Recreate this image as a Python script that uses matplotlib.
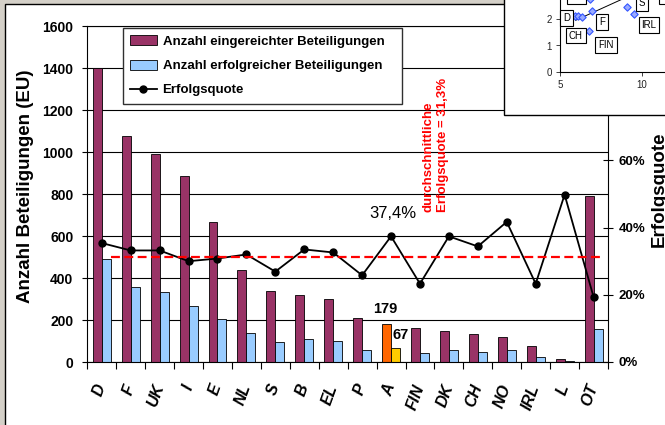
import matplotlib
matplotlib.use('Agg')
import matplotlib.pyplot as plt
import numpy as np
from matplotlib.patches import Rectangle, Patch
from matplotlib.lines import Line2D

plt.rcParams['font.family'] = ['Liberation Sans', 'DejaVu Sans']

# ---------------- data ----------------
categories = ['D', 'F', 'UK', 'I', 'E', 'NL', 'S', 'B', 'EL', 'P', 'A',
              'FIN', 'DK', 'CH', 'NO', 'IRL', 'L', 'OT']
submitted = [1400, 1075, 990, 884, 665, 438, 339, 320, 299, 211, 179,
             164, 149, 134, 119, 76, 13, 789]
successful = [490, 359, 331, 267, 204, 140, 95, 110, 100, 56, 67,
              41, 56, 46, 56, 22, 4, 156]
success_rate = [35.4, 33.2, 33.2, 30.0, 30.8, 32.0, 26.9, 33.5, 32.6, 25.8, 37.4,
                23.3, 37.4, 34.4, 41.7, 23.3, 49.8, 19.4]
average_rate = 31.3
highlight = 'A'
highlight_labels = ['179', '67', '37,4%']

left_ticks = [0, 200, 400, 600, 800, 1000, 1200, 1400, 1600]
right_ticks = [0, 20, 40, 60, 80, 100]
right_tick_labels = ['0%', '20%', '40%', '60%', '80%', '100%']
series_labels = ['Anzahl eingereichter Beteiligungen',
                 'Anzahl erfolgreicher Beteiligungen',
                 'Erfolgsquote']
y_label_left = 'Anzahl Beteiligungen (EU)'
y_label_right = 'Erfolgsquote'
avg_text = 'durchschnittliche\nErfolgsquote = 31,3%'

# inset scatter (partly hidden)
inset_x = [5.92, 6.12, 6.33, 6.94, 6.80, 9.09, 9.50, 6.85]
inset_y = [2.11, 2.13, 2.10, 2.32, 1.55, 2.46, 2.20, 2.78]
inset_trend_x = [5.95, 9.2]
inset_trend_y = [1.96, 2.88]
inset_labels = ['D', 'CH', 'F', 'FIN', 'S', 'IRL', 'NL', 'B']
inset_label_x = [5.41, 5.96, 7.57, 7.82, 10.02, 10.45, 6.01, 11.45]
inset_label_y = [2.04, 1.38, 1.91, 1.01, 2.62, 1.78, 2.90, 2.90]
inset_xticks = [5, 10, 15]
inset_yticks = [0, 1, 2, 3, 4]

# ---------------- colours ----------------
PURPLE = '#993366'
LIGHTBLUE = '#99CCFF'
ORANGE = '#FF6600'
YELLOW = '#FFCC00'

W, H = 665, 425
def fx(px):
    return px / W
def fy(py):
    return 1 - py / H

fig = plt.figure(figsize=(W / 100, H / 100), dpi=100)
fig.patch.set_facecolor('white')

# outer window frame
fig.add_artist(Rectangle((0, 0), 1, 1, transform=fig.transFigure,
                         facecolor='#D4D0C8', edgecolor='none', zorder=-10))
fig.add_artist(Rectangle((fx(4.5), fy(460)), 1.2, fy(4) - fy(460),
                         transform=fig.transFigure, facecolor='white',
                         edgecolor='black', lw=1.0, zorder=-9))

ax = fig.add_axes([fx(87.3), fy(362), fx(608) - fx(87.3), fy(26) - fy(362)])
n = len(categories)
x = np.arange(n)
w = 0.31

purple_cols = [ORANGE if c == highlight else PURPLE for c in categories]
blue_cols = [YELLOW if c == highlight else LIGHTBLUE for c in categories]
ax.bar(x - w / 2, submitted, w, color=purple_cols, edgecolor='black', linewidth=0.6, zorder=2)
ax.bar(x + w / 2, successful, w, color=blue_cols, edgecolor='black', linewidth=0.6, zorder=2)

ax.set_xlim(-0.5, n - 0.5)
ax.set_ylim(0, 1600)
ax.set_yticks(left_ticks)
ax.set_yticklabels([str(t) for t in left_ticks], fontsize=10, fontweight='bold')
ax.yaxis.grid(True, color='black', lw=0.8)
ax.set_axisbelow(True)
ax.tick_params(axis='y', direction='out', length=3.5, width=0.8, pad=6.5)
ax.set_xticks(x)
ax.set_xticklabels([])
ax.tick_params(axis='x', which='major', length=0)
ax.set_xticks(np.arange(-0.5, n, 1), minor=True)
ax.tick_params(axis='x', which='minor', length=5, width=0.8, direction='out')
for s in ['left', 'bottom', 'top']:
    ax.spines[s].set_linewidth(0.8)
ax.spines['right'].set_visible(False)

for i, c in enumerate(categories):
    ax.annotate(c, xy=(i, 0), xycoords=('data', 'axes fraction'),
                xytext=(0, -16.5), textcoords='offset points',
                rotation=70, ha='right', va='center', rotation_mode='anchor',
                fontsize=11.5, fontstyle='italic', fontweight='bold')

hi = categories.index(highlight)
ax.annotate(highlight_labels[0], xy=(hi - w / 2, submitted[hi]), xytext=(-1.3, 11),
            textcoords='offset points', ha='center', va='center',
            fontsize=10.5, fontweight='bold')
ax.annotate(highlight_labels[1], xy=(hi + w / 2, successful[hi]), xytext=(4, 9.4),
            textcoords='offset points', ha='center', va='center',
            fontsize=10.5, fontweight='bold')

ax2 = ax.twinx()
ax2.set_ylim(0, 100)
ax2.set_yticks(right_ticks)
ax2.set_yticklabels(right_tick_labels, fontsize=9.5, fontweight='bold')
ax2.tick_params(axis='y', direction='inout', length=7, width=0.8, pad=4)
for s in ['left', 'bottom', 'top']:
    ax2.spines[s].set_visible(False)
ax2.spines['right'].set_linewidth(0.8)

ax2.plot(x, success_rate, color='black', lw=1.3, marker='o', ms=5, zorder=3)
ax2.plot([w, n - 1 + w], [average_rate, average_rate], color='red', lw=1.6,
         ls=(0, (4, 2)), zorder=4)
ax2.annotate(highlight_labels[2], xy=(hi, success_rate[hi]), xytext=(1.4, 16.6),
             textcoords='offset points', ha='center', va='center', fontsize=12)

handles = [Patch(facecolor=PURPLE, edgecolor='black', lw=0.6),
           Patch(facecolor=LIGHTBLUE, edgecolor='black', lw=0.6),
           Line2D([], [], color='black', marker='o', ms=5, lw=1.3)]
leg = ax2.legend(handles, series_labels, loc='upper left', mode='expand',
                 bbox_to_anchor=(fx(123), fy(104), (402 - 123) / W, (104 - 28) / H),
                 bbox_transform=fig.transFigure,
                 prop=dict(weight='bold', size=9.5), frameon=True, fancybox=False,
                 edgecolor='#303030', framealpha=1, borderaxespad=0, borderpad=0.55,
                 labelspacing=0.88, handlelength=2.0, handleheight=0.8,
                 handletextpad=0.45)
leg.get_frame().set_linewidth(1.0)

# average annotation
fig.text(fx(435.5), fy(212), avg_text, rotation=90, color='red', fontweight='bold',
         fontsize=9.5, ha='center', va='bottom', multialignment='left', linespacing=1.3)

# axis titles
fig.text(fx(26), fy(186), y_label_left, rotation=90, ha='center', va='center',
         fontsize=13.5, fontweight='bold')
fig.text(fx(659), fy(247), y_label_right, rotation=90, ha='center', va='bottom',
         fontsize=13.5, fontweight='bold', zorder=1)

# inset box
fig.add_artist(Rectangle((fx(504), fy(115)), 1, 1, transform=fig.transFigure,
                         facecolor='white', edgecolor='black', lw=1.0, zorder=5))
axin = fig.add_axes([fx(560), fy(71.7), 163.4 / W, 104.8 / H], zorder=6)
axin.set_facecolor('none')
axin.set_xlim(5, 15)
axin.set_ylim(0, 4)
axin.set_xticks(inset_xticks)
axin.set_yticks(inset_yticks)
axin.tick_params(labelsize=7, length=3, width=0.6, direction='out', pad=3, colors='#222222')
for s in ['top', 'right']:
    axin.spines[s].set_visible(False)
for s in ['left', 'bottom']:
    axin.spines[s].set_linewidth(0.8)
axin.plot(inset_trend_x, inset_trend_y, color='black', lw=0.7, zorder=2)
axin.scatter(inset_x, inset_y, marker='D', s=14, facecolor='#99AAFF',
             edgecolor='#3355FF', lw=0.8, zorder=3)
for t, lx, ly in zip(inset_labels, inset_label_x, inset_label_y):
    axin.text(lx, ly, t, ha='center', va='center', fontsize=7, zorder=4,
              bbox=dict(boxstyle='square,pad=0.3', fc='white', ec='black', lw=0.8))

fig.savefig('out.png', dpi=100)
